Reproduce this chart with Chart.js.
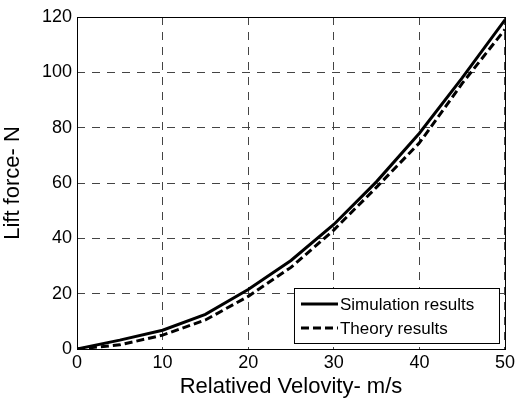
<!DOCTYPE html>
<html>
<head>
<meta charset="utf-8">
<script src="https://cdn.jsdelivr.net/npm/chart.js@4"></script>
<style>
  html, body { margin: 0; padding: 0; background: #fff; }
  #wrap { width: 518px; height: 400px; }
</style>
</head>
<body>
<div id="wrap"><canvas id="myChart" width="518" height="400"></canvas></div>
<script>
const velocity = [0, 5, 10, 15, 20, 25, 30, 35, 40, 45, 50];
const simulation = [0, 3.2, 6.8, 12.5, 21.5, 32, 45, 60.5, 78, 98, 119];
const theory = [0, 1.5, 5, 10.5, 19, 29.5, 43, 58.5, 74.5, 96, 115.5];
const seriesNames = ['Simulation results', 'Theory results'];

const font = "'Liberation Sans', Arial, sans-serif";

// legend box drawn inside the plot, bottom right (matlab style)
const boxLegend = {
    id: 'boxLegend',
    afterDatasetsDraw(chart) {
        const ctx = chart.ctx;
        const a = chart.chartArea;
        const x0 = a.right - 211, y0 = a.bottom - 61, w = 205, h = 55;
        ctx.save();
        ctx.fillStyle = '#fff';
        ctx.fillRect(x0, y0, w, h);
        ctx.strokeStyle = '#000';
        ctx.lineWidth = 1;
        ctx.strokeRect(x0 + 0.5, y0 + 0.5, w, h);
        ctx.font = '17px ' + font;
        ctx.textBaseline = 'middle';
        chart.data.datasets.forEach((ds, i) => {
            const y = y0 + 16 + i * 24;
            ctx.beginPath();
            ctx.setLineDash(ds.borderDash || []);
            ctx.lineWidth = ds.borderWidth;
            ctx.strokeStyle = ds.borderColor;
            ctx.moveTo(x0 + 7, y);
            ctx.lineTo(x0 + 44, y);
            ctx.stroke();
            ctx.setLineDash([]);
            ctx.fillStyle = '#000';
            ctx.fillText(ds.label, x0 + 46, y + 1);
        });
        ctx.restore();
    }
};

// solid frame round the plot (grid lines are dashed)
const frame = {
    id: 'frame',
    beforeDatasetsDraw(chart) {
        const ctx = chart.ctx, a = chart.chartArea;
        ctx.save();
        ctx.strokeStyle = '#000';
        ctx.lineWidth = 1;
        ctx.setLineDash([]);
        ctx.strokeRect(a.left + 0.5, a.top + 0.5, a.right - a.left, a.bottom - a.top);
        ctx.restore();
    }
};

const config = {
    type: 'line',
    data: {
        labels: velocity,
        datasets: [{
            label: seriesNames[0],
            data: simulation,
            borderColor: '#000',
            borderWidth: 3,
            pointRadius: 0,
            tension: 0,
        }, {
            label: seriesNames[1],
            data: theory,
            borderColor: '#000',
            borderWidth: 3,
            borderDash: [8, 4],
            pointRadius: 0,
            tension: 0,
        }],
    },
    options: {
        responsive: false,
        animation: false,
        layout: { padding: { left: 0, right: 10, top: 17, bottom: 0 } },
        plugins: {
            legend: { display: false },
            tooltip: { enabled: false },
        },
        scales: {
            x: {
                type: 'linear',
                min: 0,
                max: 50,
                ticks: { stepSize: 10, color: '#000', padding: 3, font: { family: font, size: 18 } },
                grid: { color: '#444', lineWidth: 1, drawTicks: false },
                border: { display: false, dash: [8, 7] },
                title: { display: true, text: 'Relatived Velovity- m/s', color: '#000', padding: { top: 0, bottom: 0 }, font: { family: font, size: 22 } },
                afterFit(scale) { scale.height = 51; },
            },
            y: {
                min: 0,
                max: 120,
                ticks: { stepSize: 20, color: '#000', padding: 5, font: { family: font, size: 18 } },
                grid: { color: '#444', lineWidth: 1, drawTicks: false },
                border: { display: false, dash: [8, 7] },
                title: { display: true, text: 'Lift force- N', color: '#000', padding: { top: 0, bottom: 0 }, font: { family: font, size: 22 } },
                afterFit(scale) { scale.width = 77; },
            },
        },
    },
    plugins: [frame, boxLegend],
};

var myChart = new Chart(document.getElementById('myChart'), config);
</script>
</body>
</html>
